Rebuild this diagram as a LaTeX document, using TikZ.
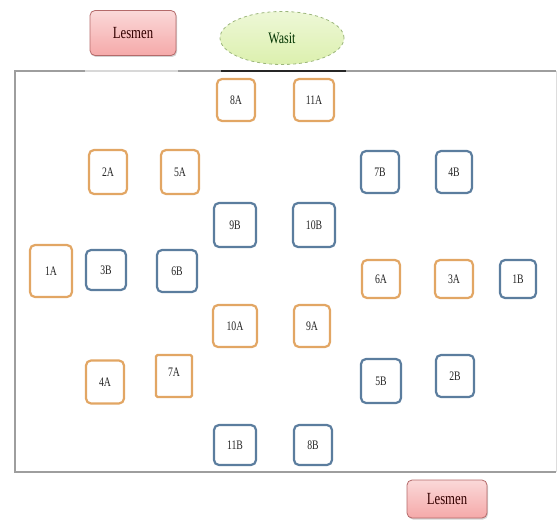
\documentclass[tikz,border=0pt]{standalone}
\usepackage{fontspec}
\setmainfont{Liberation Serif}
\newfontfamily\condfont[FakeStretch=0.75]{Liberation Serif}
\usetikzlibrary{shapes.geometric,shadows}
\definecolor{orangeb}{HTML}{E2A664}
\definecolor{blueb}{HTML}{5B7D9E}
\definecolor{pinkfill}{HTML}{F5A9A9}
\definecolor{pinkborder}{HTML}{B46A6A}
\definecolor{greenfill}{HTML}{DCF0AE}
\definecolor{greenborder}{HTML}{9CB67C}
\definecolor{fieldline}{HTML}{9E9E9E}
\tikzset{
  x=1pt, y=-1pt,
  player/.style={draw, line width=2.2pt, rounded corners=5pt, fill=white,
    font=\condfont\fontsize{13}{13}\selectfont, inner sep=0pt, text=black!85},
  teamA/.style={player, draw=orangeb},
  teamB/.style={player, draw=blueb},
  lesmenbox/.style={draw=pinkborder, line width=0.8pt, rounded corners=5pt,
    top color=pinkfill!45, bottom color=pinkfill, inner sep=0pt,
    drop shadow={shadow xshift=1pt, shadow yshift=-1.5pt, opacity=0.35},
    font=\condfont\fontsize{17}{17}\selectfont, text=black!80!red},
  wasitbox/.style={ellipse, draw=greenborder, dashed, line width=0.8pt,
    top color=greenfill!50, bottom color=greenfill, inner sep=0pt,
    font=\condfont\fontsize{16}{16}\selectfont, text=black!80!green},
}
\begin{document}
\begin{tikzpicture}
\useasboundingbox (0,0) rectangle (559,519);
% field
\coordinate (tl) at (15,71);
\coordinate (bl) at (15,472);
\coordinate (br) at (556,472);
\coordinate (tr) at (556,71);
\coordinate (g1) at (85,71);
\coordinate (g2) at (178,71);
\coordinate (w1) at (221,71);
\coordinate (w2) at (346,71);
\draw[fieldline, line width=1.4pt] (g1) -- (tl) -- (bl) -- (br);
\draw[fieldline!40, line width=1.4pt] (g1) -- (g2);
\draw[fieldline, line width=1.4pt] (g2) -- (w1);
\draw[black!85, line width=1.6pt] (w1) -- (w2);
\draw[fieldline, line width=1.4pt] (w2) -- (tr);
\draw[fieldline!35, line width=1pt] (tr) -- (br);
% officials
\node[lesmenbox, minimum width=86pt, minimum height=45pt] (lesmen1) at (133,33) {Lesmen};
\node[wasitbox, minimum width=124pt, minimum height=53pt] (wasit) at (282,38) {Wasit};
\node[lesmenbox, minimum width=80pt, minimum height=38pt] (lesmen2) at (447,499) {Lesmen};
% team A
\node[teamA, minimum width=38pt, minimum height=42pt] (n8A) at (236,100) {8A};
\node[teamA, minimum width=40pt, minimum height=42pt] (n11A) at (314,100) {11A};
\node[teamA, minimum width=38pt, minimum height=44pt] (n2A) at (108,172) {2A};
\node[teamA, minimum width=38pt, minimum height=44pt] (n5A) at (180,172) {5A};
\node[teamA, minimum width=42pt, minimum height=52pt] (n1A) at (51,271) {1A};
\node[teamA, minimum width=38pt, minimum height=38pt] (n6A) at (381,279) {6A};
\node[teamA, minimum width=38pt, minimum height=38pt] (n3A) at (454,279) {3A};
\node[teamA, minimum width=44pt, minimum height=42pt] (n10A) at (235,326) {10A};
\node[teamA, minimum width=36pt, minimum height=42pt] (n9A) at (312,326) {9A};
\node[teamA, minimum width=38pt, minimum height=43pt] (n4A) at (105,382) {4A};
\node[teamA, rounded corners=1.5pt, minimum width=36pt, minimum height=42pt] (n7A) at (174,376) {\raisebox{8pt}{7A}};
% team B
\node[teamB, minimum width=38pt, minimum height=42pt] (n7B) at (380,172) {7B};
\node[teamB, minimum width=36pt, minimum height=42pt] (n4B) at (454,172) {4B};
\node[teamB, minimum width=42pt, minimum height=44pt] (n9B) at (235,225) {9B};
\node[teamB, minimum width=42pt, minimum height=44pt] (n10B) at (314,225) {10B};
\node[teamB, minimum width=40pt, minimum height=40pt] (n3B) at (106,270) {3B};
\node[teamB, minimum width=40pt, minimum height=42pt] (n6B) at (177,271) {6B};
\node[teamB, minimum width=36pt, minimum height=38pt] (n1B) at (518,279) {1B};
\node[teamB, minimum width=40pt, minimum height=44pt] (n5B) at (381,381) {5B};
\node[teamB, minimum width=38pt, minimum height=42pt] (n2B) at (455,376) {2B};
\node[teamB, minimum width=42pt, minimum height=40pt] (n11B) at (235,445) {11B};
\node[teamB, minimum width=38pt, minimum height=40pt] (n8B) at (313,445) {8B};
\end{tikzpicture}
\end{document}
